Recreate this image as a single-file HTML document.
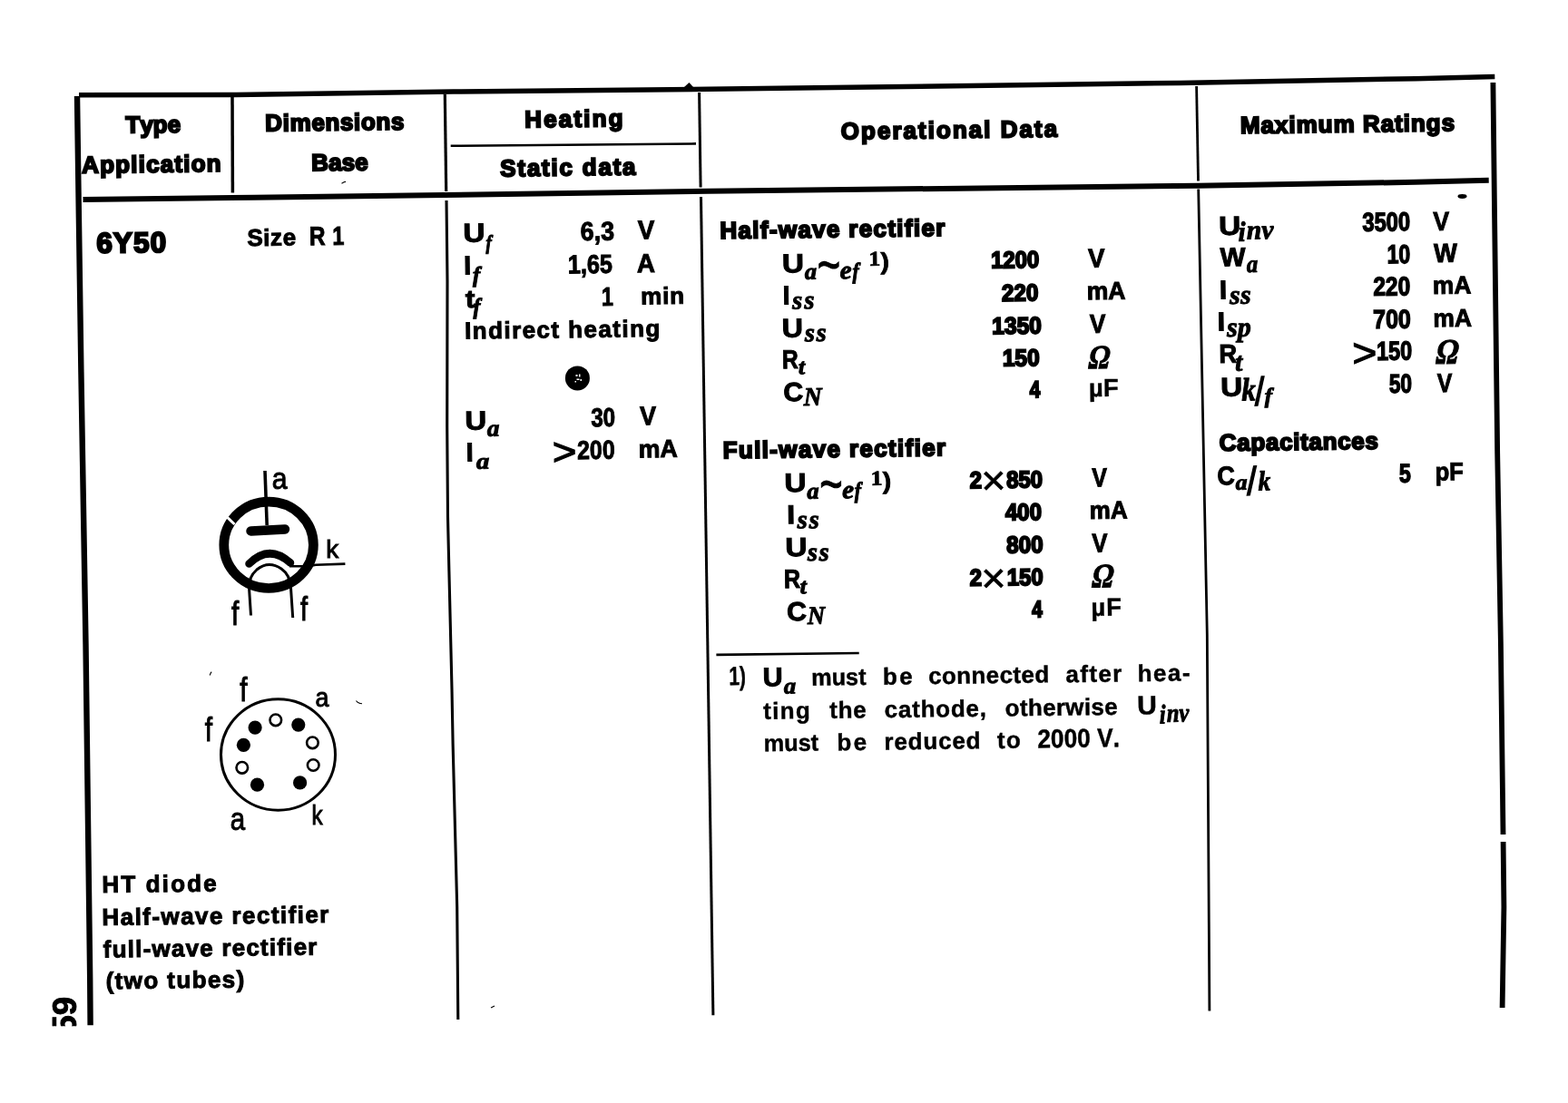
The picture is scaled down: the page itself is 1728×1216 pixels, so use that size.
<!DOCTYPE html>
<html lang="en"><head><meta charset="utf-8"><title>6Y50</title>
<style>
html,body{margin:0;padding:0;background:#fff}
body{width:1728px;height:1216px;overflow:hidden}
svg{display:block}
text{fill:#000;font-kerning:none;white-space:pre}
</style></head><body>
<svg width="1728" height="1216" viewBox="0 0 1728 1216">
<defs><clipPath id="pc"><rect x="40" y="1080" width="60" height="51.2"/></clipPath></defs>
<rect width="1728" height="1216" fill="#fff"/>
<path d="M87 104.7 L260 104.5 L500 101.1 L780 98.3 L1300 91.4 L1560 86.7 L1647.3 84.4" fill="none" stroke="#000" stroke-width="5.5" stroke-linecap="butt" stroke-linejoin="round"/>
<path d="M91.5 219.9 L280 217.8 L470 215.2 L780 210.8 L1320 204.7 L1560 200.8 L1640.7 198.7" fill="none" stroke="#000" stroke-width="6" stroke-linecap="butt" stroke-linejoin="round"/>
<path d="M85 106 L86.9 240 L89.4 410 L94.5 710 L99.2 1080 L99.6 1130.3" fill="none" stroke="#000" stroke-width="6.4" stroke-linecap="butt" stroke-linejoin="round"/>
<path d="M1645.4 91 L1647.1 240 L1650.2 500 L1653.9 710 L1656.5 920" fill="none" stroke="#000" stroke-width="5.8" stroke-linecap="butt" stroke-linejoin="round"/>
<path d="M1656.6 928 L1657.4 1000 L1655.6 1111" fill="none" stroke="#000" stroke-width="5.8" stroke-linecap="butt" stroke-linejoin="round"/>
<path d="M256 107 L256.4 212.6" fill="none" stroke="#000" stroke-width="3.5" stroke-linecap="butt" stroke-linejoin="round"/>
<path d="M490.3 104 L491.7 211" fill="none" stroke="#000" stroke-width="3.2" stroke-linecap="butt" stroke-linejoin="round"/>
<path d="M492 221 L493 310 L492.7 470 L493.5 570 L494.9 630 L498 760 L499.1 820 L503.7 1000 L504.8 1124" fill="none" stroke="#000" stroke-width="3.1" stroke-linecap="butt" stroke-linejoin="round"/>
<path d="M770.6 102 L772.1 206.5" fill="none" stroke="#000" stroke-width="3" stroke-linecap="butt" stroke-linejoin="round"/>
<path d="M772.5 217 L785.9 1119.3" fill="none" stroke="#000" stroke-width="3" stroke-linecap="butt" stroke-linejoin="round"/>
<path d="M1318.6 95 L1320.5 199.5" fill="none" stroke="#000" stroke-width="2.8" stroke-linecap="butt" stroke-linejoin="round"/>
<path d="M1320.7 208.5 L1330.3 700 L1332.9 1114.6" fill="none" stroke="#000" stroke-width="2.8" stroke-linecap="butt" stroke-linejoin="round"/>
<path d="M496.7 160.8 L767 158.4" fill="none" stroke="#000" stroke-width="2.6" stroke-linecap="butt" stroke-linejoin="round"/>
<path d="M789.4 721.9 L946.7 720" fill="none" stroke="#000" stroke-width="2.6" stroke-linecap="butt" stroke-linejoin="round"/>
<path d="M754 96 L759.5 91 L764 96Z" fill="#000"/>
<ellipse cx="1611.5" cy="216.5" rx="5" ry="2.4" fill="#000"/>
<path d="M376.5 202.2l3-1.6 1.5-.2M231.2 744.5l1.3-3.2.9-.3M392.5 772.5q2 3 6.5 3.2M541 1111l4-2" fill="none" stroke="#000" stroke-width="1.1"/>
<text x="-0.29" y="0" font-family="'Liberation Sans', sans-serif" font-size="26" font-weight="bold" stroke="#000" stroke-width="2" transform="translate(138.8 146.6) rotate(-0.72)">Type</text>
<text x="-0.65" y="0" font-family="'Liberation Sans', sans-serif" font-size="26" font-weight="bold" stroke="#000" stroke-width="2" letter-spacing="1.18" transform="translate(90.9 190.8) rotate(-0.72)">Application</text>
<text x="-1.74" y="0" font-family="'Liberation Sans', sans-serif" font-size="26" font-weight="bold" stroke="#000" stroke-width="2" letter-spacing="0.64" transform="translate(294.1 144.6) rotate(-0.72)">Dimensions</text>
<text x="-1.74" y="0" font-family="'Liberation Sans', sans-serif" font-size="26" font-weight="bold" stroke="#000" stroke-width="2" letter-spacing="0.09" transform="translate(345 188.3) rotate(-0.72)">Base</text>
<text x="-1.74" y="0" font-family="'Liberation Sans', sans-serif" font-size="26" font-weight="bold" stroke="#000" stroke-width="2" letter-spacing="2.17" transform="translate(580 140.5) rotate(-0.72)">Heating</text>
<text x="-0.75" y="0" font-family="'Liberation Sans', sans-serif" font-size="26" font-weight="bold" stroke="#000" stroke-width="2" letter-spacing="1.77" transform="translate(552.1 194.4) rotate(-0.72)">Static data</text>
<text x="-1.07" y="0" font-family="'Liberation Sans', sans-serif" font-size="26" font-weight="bold" stroke="#000" stroke-width="2" letter-spacing="2.03" transform="translate(927.8 153.6) rotate(-0.72)">Operational Data</text>
<text x="-1.74" y="0" font-family="'Liberation Sans', sans-serif" font-size="26" font-weight="bold" stroke="#000" stroke-width="2" letter-spacing="0.98" transform="translate(1368.7 147.1) rotate(-0.72)">Maximum Ratings</text>
<text x="-1.15" y="0" font-family="'Liberation Sans', sans-serif" font-size="31.5" font-weight="bold" stroke="#000" stroke-width="2.2" letter-spacing="1.03" transform="translate(107.7 278.7) rotate(-0.72)">6Y50</text>
<text x="-0.75" y="0" font-family="'Liberation Sans', sans-serif" font-size="26" font-weight="bold" stroke="#000" stroke-width="1" letter-spacing="0.54" transform="translate(273.2 271.1) rotate(-0.72)">Size</text>
<text x="-1.94" y="0" font-family="'Liberation Sans', sans-serif" font-size="29" font-weight="bold" stroke="#000" stroke-width="1" transform="translate(342.7 270.3) rotate(-0.72) scale(0.842 1)">R</text>
<text x="-1.83" y="0" font-family="'Liberation Sans', sans-serif" font-size="29" font-weight="bold" stroke="#000" stroke-width="1" transform="translate(368.05 270) rotate(-0.72) scale(0.8 1)">1</text>
<text x="-1.74" y="0" font-family="'Liberation Sans', sans-serif" font-size="26" font-weight="bold" stroke="#000" stroke-width="1" letter-spacing="2.12" transform="translate(114.3 984.1) rotate(-0.72)">HT diode</text>
<text x="-1.74" y="0" font-family="'Liberation Sans', sans-serif" font-size="26" font-weight="bold" stroke="#000" stroke-width="1" letter-spacing="1.44" transform="translate(114.3 1020.1) rotate(-0.72)">Half-wave rectifier</text>
<text x="-0.44" y="0" font-family="'Liberation Sans', sans-serif" font-size="26" font-weight="bold" stroke="#000" stroke-width="1" letter-spacing="1.21" transform="translate(114.3 1055.5) rotate(-0.72)">full-wave rectifier</text>
<text x="-1.29" y="0" font-family="'Liberation Sans', sans-serif" font-size="26" font-weight="bold" stroke="#000" stroke-width="1" letter-spacing="1.4" transform="translate(118 1090.3) rotate(-0.72)">(two tubes)</text>
<text x="-1.74" y="0" font-family="'Liberation Sans', sans-serif" font-size="29" font-weight="bold" stroke="#000" stroke-width="1" transform="translate(512.53 266.8) rotate(-0.72) scale(1.15 1)">U</text>
<text x="-0" y="0" font-family="'Liberation Serif', serif" font-size="22.57" font-weight="bold" font-style="italic" stroke="#000" stroke-width="1" transform="translate(535.5 274.99) rotate(-0.72) scale(0.852 1)">f</text>
<text x="-1.06" y="0" font-family="'Liberation Sans', sans-serif" font-size="29" font-weight="bold" stroke="#000" stroke-width="1" transform="translate(640.7 265.1) rotate(-0.72) scale(0.927 1)">6,3</text>
<text x="-0.2" y="0" font-family="'Liberation Sans', sans-serif" font-size="29" font-weight="bold" stroke="#000" stroke-width="1" transform="translate(703.2 263.5) rotate(-0.72) scale(0.955 1)">V</text>
<text x="-1.94" y="0" font-family="'Liberation Sans', sans-serif" font-size="29" font-weight="bold" stroke="#000" stroke-width="1" transform="translate(513.1 302.4) rotate(-0.72) scale(1.005 1)">I</text>
<text x="-0" y="0" font-family="'Liberation Serif', serif" font-size="24.43" font-weight="bold" font-style="italic" stroke="#000" stroke-width="1" transform="translate(520.9 311.1) rotate(-0.72) scale(1.014 1)">f</text>
<text x="-1.83" y="0" font-family="'Liberation Sans', sans-serif" font-size="29" font-weight="bold" stroke="#000" stroke-width="1" transform="translate(627.7 301.5) rotate(-0.72) scale(0.868 1)">1,65</text>
<text x="-0.72" y="0" font-family="'Liberation Sans', sans-serif" font-size="29" font-weight="bold" stroke="#000" stroke-width="1" transform="translate(702.7 300.3) rotate(-0.72) scale(0.956 1)">A</text>
<text x="-0.34" y="0" font-family="'Liberation Sans', sans-serif" font-size="27.5" font-weight="bold" stroke="#000" stroke-width="1" transform="translate(513.47 338.9) rotate(-0.72) scale(1.15 1)">t</text>
<text x="-0" y="0" font-family="'Liberation Serif', serif" font-size="25.08" font-weight="bold" font-style="italic" stroke="#000" stroke-width="1" transform="translate(521.5 346.16) rotate(-0.72) scale(0.958 1)">f</text>
<text x="-1.83" y="0" font-family="'Liberation Sans', sans-serif" font-size="29" font-weight="bold" stroke="#000" stroke-width="1" transform="translate(664.5 337.1) rotate(-0.72) scale(0.8 1)">1</text>
<text x="-1.71" y="0" font-family="'Liberation Sans', sans-serif" font-size="26" font-weight="bold" stroke="#000" stroke-width="1" letter-spacing="0.85" transform="translate(707.9 335.4) rotate(-0.72)">min</text>
<text x="-1.74" y="0" font-family="'Liberation Sans', sans-serif" font-size="26" font-weight="bold" stroke="#000" stroke-width="1" letter-spacing="1.44" transform="translate(513.9 373.6) rotate(-0.72)">Indirect heating</text>
<circle cx="636.4" cy="416.9" r="13.5" fill="#000"/>
<path d="M634.5 413h2v2h-2zM638 412.5h1.5v3H638zM635.5 417.5h3v1.5h-3zM639.5 418h1.5v2h-1.5zM633.5 420h1.5v1.5h-1.5z" fill="#fff"/>
<text x="-1.74" y="0" font-family="'Liberation Sans', sans-serif" font-size="29" font-weight="bold" stroke="#000" stroke-width="1" transform="translate(514.5 473.7) rotate(-0.72) scale(1.136 1)">U</text>
<text x="-0.3" y="0" font-family="'Liberation Serif', serif" font-size="25.78" font-weight="bold" font-style="italic" stroke="#000" stroke-width="1" transform="translate(537.4 480.74) rotate(-0.72) scale(1.044 1)">a</text>
<text x="-0.67" y="0" font-family="'Liberation Sans', sans-serif" font-size="29" font-weight="bold" stroke="#000" stroke-width="1" transform="translate(652 470.2) rotate(-0.72) scale(0.832 1)">30</text>
<text x="-0.2" y="0" font-family="'Liberation Sans', sans-serif" font-size="29" font-weight="bold" stroke="#000" stroke-width="1" transform="translate(705.4 468.5) rotate(-0.72) scale(0.929 1)">V</text>
<text x="-1.94" y="0" font-family="'Liberation Sans', sans-serif" font-size="29" font-weight="bold" stroke="#000" stroke-width="1" transform="translate(515.7 508.4) rotate(-0.72) scale(1.005 1)">I</text>
<text x="-0.29" y="0" font-family="'Liberation Serif', serif" font-size="24.95" font-weight="bold" font-style="italic" stroke="#000" stroke-width="1" transform="translate(525.44 516.84) rotate(-0.72) scale(1.15 1)">a</text>
<text x="-2.08" y="0" font-family="'Liberation Sans', sans-serif" font-size="42.14" stroke="#000" stroke-width="1.2" transform="translate(611.3 512.37) rotate(-0.72) scale(1.079 1)">&gt;</text>
<text x="-1.01" y="0" font-family="'Liberation Sans', sans-serif" font-size="29" font-weight="bold" stroke="#000" stroke-width="1" transform="translate(637.2 506.2) rotate(-0.72) scale(0.855 1)">200</text>
<text x="-1.81" y="0" font-family="'Liberation Sans', sans-serif" font-size="27.5" font-weight="bold" stroke="#000" stroke-width="1" transform="translate(705.4 504.4) rotate(-0.72) scale(0.974 1)">mA</text>
<text x="-1.74" y="0" font-family="'Liberation Sans', sans-serif" font-size="29" font-weight="bold" stroke="#000" stroke-width="1" transform="translate(864.08 300.4) rotate(-0.72) scale(1.15 1)">U</text>
<text x="-0.3" y="0" font-family="'Liberation Serif', serif" font-size="25.37" font-weight="bold" font-style="italic" stroke="#000" stroke-width="1" transform="translate(887.4 307.74) rotate(-0.72) scale(1.036 1)">a</text>
<text x="-2.79" y="0" font-family="'Liberation Sans', sans-serif" font-size="62.09" stroke="#000" stroke-width="1.2" transform="translate(903 312.86) rotate(-0.72) scale(0.701 1)">~</text>
<text x="-0.66" y="0" font-family="'Liberation Serif', serif" font-size="28.28" font-weight="bold" font-style="italic" stroke="#000" stroke-width="1" transform="translate(926.4 307.32) rotate(-0.72) scale(1.03 1)">e</text>
<text x="-0" y="0" font-family="'Liberation Serif', serif" font-size="25.08" font-weight="bold" font-style="italic" stroke="#000" stroke-width="1" transform="translate(939.4 307.16) rotate(-0.72) scale(0.872 1)">f</text>
<text x="-1.82" y="0" font-family="'Liberation Serif', serif" font-size="22.72" font-weight="bold" stroke="#000" stroke-width="0.8" transform="translate(959.5 292.7) rotate(-0.72) scale(1.124 1)">1</text>
<text x="-0.03" y="0" font-family="'Liberation Sans', sans-serif" font-size="26.07" font-weight="bold" stroke="#000" stroke-width="0.8" transform="translate(970.5 296.99) rotate(-0.72) scale(1.101 1)">)</text>
<text x="-1.74" y="0" font-family="'Liberation Sans', sans-serif" font-size="26" font-weight="bold" stroke="#000" stroke-width="2" letter-spacing="1.33" transform="translate(795.2 263) rotate(-0.72)">Half-wave rectifier</text>
<text x="-1.94" y="0" font-family="'Liberation Sans', sans-serif" font-size="29" font-weight="bold" stroke="#000" stroke-width="1" transform="translate(864.7 335.4) rotate(-0.72) scale(0.982 1)">I</text>
<text x="0.15" y="0" font-family="'Liberation Serif', serif" font-size="28.48" font-weight="bold" font-style="italic" stroke="#000" stroke-width="1" letter-spacing="2.15" transform="translate(873.2 340.42) rotate(-0.72)">ss</text>
<text x="-1.74" y="0" font-family="'Liberation Sans', sans-serif" font-size="29" font-weight="bold" stroke="#000" stroke-width="1" transform="translate(863.7 371.7) rotate(-0.72) scale(1.113 1)">U</text>
<text x="0.15" y="0" font-family="'Liberation Serif', serif" font-size="28.28" font-weight="bold" font-style="italic" stroke="#000" stroke-width="1" letter-spacing="1.91" transform="translate(886.8 376.22) rotate(-0.72)">ss</text>
<text x="-1.94" y="0" font-family="'Liberation Sans', sans-serif" font-size="29" font-weight="bold" stroke="#000" stroke-width="1" transform="translate(863.7 406.3) rotate(-0.72) scale(0.853 1)">R</text>
<text x="-0.73" y="0" font-family="'Liberation Serif', serif" font-size="24.09" font-weight="bold" font-style="italic" stroke="#000" stroke-width="1" transform="translate(880.7 412.36) rotate(-0.72) scale(1.066 1)">t</text>
<text x="-1.19" y="0" font-family="'Liberation Sans', sans-serif" font-size="29" font-weight="bold" stroke="#000" stroke-width="1" transform="translate(864.7 442.3) rotate(-0.72) scale(1.044 1)">C</text>
<text x="0.27" y="0" font-family="'Liberation Serif', serif" font-size="28.71" font-weight="bold" font-style="italic" stroke="#000" stroke-width="1" transform="translate(885.5 447) rotate(-0.72) scale(0.965 1)">N</text>
<text x="-1.64" y="0" font-family="'Liberation Sans', sans-serif" font-size="26" font-weight="bold" stroke="#000" stroke-width="2" transform="translate(1093.7 295.6) rotate(-0.72) scale(0.92 1)">1200</text>
<text x="-0.2" y="0" font-family="'Liberation Sans', sans-serif" font-size="29" font-weight="bold" stroke="#000" stroke-width="1" transform="translate(1199.4 294.8) rotate(-0.72) scale(0.95 1)">V</text>
<text x="-0.9" y="0" font-family="'Liberation Sans', sans-serif" font-size="26" font-weight="bold" stroke="#000" stroke-width="2" transform="translate(1104.9 331.9) rotate(-0.72) scale(0.932 1)">220</text>
<text x="-1.81" y="0" font-family="'Liberation Sans', sans-serif" font-size="27.5" font-weight="bold" stroke="#000" stroke-width="1" transform="translate(1199.4 330.3) rotate(-0.72) scale(0.97 1)">mA</text>
<text x="-1.64" y="0" font-family="'Liberation Sans', sans-serif" font-size="26" font-weight="bold" stroke="#000" stroke-width="2" transform="translate(1094.9 368.2) rotate(-0.72) scale(0.945 1)">1350</text>
<text x="-0.2" y="0" font-family="'Liberation Sans', sans-serif" font-size="29" font-weight="bold" stroke="#000" stroke-width="1" transform="translate(1201.1 367) rotate(-0.72) scale(0.908 1)">V</text>
<text x="-1.64" y="0" font-family="'Liberation Sans', sans-serif" font-size="26" font-weight="bold" stroke="#000" stroke-width="2" transform="translate(1106.6 403.6) rotate(-0.72) scale(0.937 1)">150</text>
<text x="-1.68" y="0" font-family="'Liberation Serif', serif" font-size="37" font-weight="bold" stroke="#000" stroke-width="1.1" transform="translate(1199.17 406.35) rotate(-0.72) scale(0.8 1) skewX(-14)">Ω</text>
<text x="-0.39" y="0" font-family="'Liberation Sans', sans-serif" font-size="26" font-weight="bold" stroke="#000" stroke-width="2" transform="translate(1134.96 438.2) rotate(-0.72) scale(0.8 1)">4</text>
<text x="-1.8" y="0" font-family="'Liberation Sans', sans-serif" font-size="27.5" font-weight="bold" stroke="#000" stroke-width="0.4" letter-spacing="0.36" transform="translate(1201.7 437.2) rotate(-0.72)">µF</text>
<text x="-1.74" y="0" font-family="'Liberation Sans', sans-serif" font-size="26" font-weight="bold" stroke="#000" stroke-width="2" letter-spacing="1.36" transform="translate(798.4 505.3) rotate(-0.72)">Full-wave rectifier</text>
<text x="-1.74" y="0" font-family="'Liberation Sans', sans-serif" font-size="29" font-weight="bold" stroke="#000" stroke-width="1" transform="translate(866.48 542.3) rotate(-0.72) scale(1.15 1)">U</text>
<text x="-0.3" y="0" font-family="'Liberation Serif', serif" font-size="25.37" font-weight="bold" font-style="italic" stroke="#000" stroke-width="1" transform="translate(889.8 549.64) rotate(-0.72) scale(1.036 1)">a</text>
<text x="-2.79" y="0" font-family="'Liberation Sans', sans-serif" font-size="62.09" stroke="#000" stroke-width="1.2" transform="translate(905.4 554.76) rotate(-0.72) scale(0.701 1)">~</text>
<text x="-0.66" y="0" font-family="'Liberation Serif', serif" font-size="28.28" font-weight="bold" font-style="italic" stroke="#000" stroke-width="1" transform="translate(928.8 549.22) rotate(-0.72) scale(1.03 1)">e</text>
<text x="-0" y="0" font-family="'Liberation Serif', serif" font-size="25.08" font-weight="bold" font-style="italic" stroke="#000" stroke-width="1" transform="translate(941.8 549.06) rotate(-0.72) scale(0.872 1)">f</text>
<text x="-1.82" y="0" font-family="'Liberation Serif', serif" font-size="22.72" font-weight="bold" stroke="#000" stroke-width="0.8" transform="translate(961.9 534.6) rotate(-0.72) scale(1.124 1)">1</text>
<text x="-0.03" y="0" font-family="'Liberation Sans', sans-serif" font-size="26.07" font-weight="bold" stroke="#000" stroke-width="0.8" transform="translate(972.9 538.89) rotate(-0.72) scale(1.101 1)">)</text>
<text x="-1.94" y="0" font-family="'Liberation Sans', sans-serif" font-size="29" font-weight="bold" stroke="#000" stroke-width="1" transform="translate(869.4 577.3) rotate(-0.72) scale(1.125 1)">I</text>
<text x="0.15" y="0" font-family="'Liberation Serif', serif" font-size="28.48" font-weight="bold" font-style="italic" stroke="#000" stroke-width="1" letter-spacing="2.15" transform="translate(878.5 582.32) rotate(-0.72)">ss</text>
<text x="-1.74" y="0" font-family="'Liberation Sans', sans-serif" font-size="29" font-weight="bold" stroke="#000" stroke-width="1" transform="translate(867.38 613.2) rotate(-0.72) scale(1.15 1)">U</text>
<text x="0.15" y="0" font-family="'Liberation Serif', serif" font-size="28.28" font-weight="bold" font-style="italic" stroke="#000" stroke-width="1" letter-spacing="1.71" transform="translate(889.8 618.12) rotate(-0.72)">ss</text>
<text x="-1.94" y="0" font-family="'Liberation Sans', sans-serif" font-size="29" font-weight="bold" stroke="#000" stroke-width="1" transform="translate(865.6 648.2) rotate(-0.72) scale(0.869 1)">R</text>
<text x="-0.73" y="0" font-family="'Liberation Serif', serif" font-size="24.09" font-weight="bold" font-style="italic" stroke="#000" stroke-width="1" transform="translate(882.6 654.26) rotate(-0.72) scale(1.066 1)">t</text>
<text x="-1.19" y="0" font-family="'Liberation Sans', sans-serif" font-size="29" font-weight="bold" stroke="#000" stroke-width="1" transform="translate(868.5 684.2) rotate(-0.72) scale(1.044 1)">C</text>
<text x="0.26" y="0" font-family="'Liberation Serif', serif" font-size="28.25" font-weight="bold" font-style="italic" stroke="#000" stroke-width="1" transform="translate(889.8 688) rotate(-0.72) scale(0.939 1)">N</text>
<text x="-0.9" y="0" font-family="'Liberation Sans', sans-serif" font-size="26" font-weight="bold" stroke="#000" stroke-width="2" transform="translate(1069.5 538.2) rotate(-0.72) scale(0.919 1)">2</text>
<text x="-3.15" y="0" font-family="'Liberation Sans', sans-serif" font-size="45.49" stroke="#000" stroke-width="0.7" transform="translate(1084.85 545.15) rotate(-0.72) scale(1.026 1)">×</text>
<text x="-0.83" y="0" font-family="'Liberation Sans', sans-serif" font-size="26" font-weight="bold" stroke="#000" stroke-width="2" transform="translate(1110 537.7) rotate(-0.72) scale(0.921 1)">850</text>
<text x="-0.2" y="0" font-family="'Liberation Sans', sans-serif" font-size="29" font-weight="bold" stroke="#000" stroke-width="1" transform="translate(1203.7 536.5) rotate(-0.72) scale(0.86 1)">V</text>
<text x="-0.39" y="0" font-family="'Liberation Sans', sans-serif" font-size="26" font-weight="bold" stroke="#000" stroke-width="2" transform="translate(1108.4 573.6) rotate(-0.72) scale(0.921 1)">400</text>
<text x="-1.81" y="0" font-family="'Liberation Sans', sans-serif" font-size="27.5" font-weight="bold" stroke="#000" stroke-width="1" transform="translate(1202.5 572.1) rotate(-0.72) scale(0.946 1)">mA</text>
<text x="-0.83" y="0" font-family="'Liberation Sans', sans-serif" font-size="26" font-weight="bold" stroke="#000" stroke-width="2" transform="translate(1110.1 609.6) rotate(-0.72) scale(0.93 1)">800</text>
<text x="-0.2" y="0" font-family="'Liberation Sans', sans-serif" font-size="29" font-weight="bold" stroke="#000" stroke-width="1" transform="translate(1203.7 608.7) rotate(-0.72) scale(0.887 1)">V</text>
<text x="-0.9" y="0" font-family="'Liberation Sans', sans-serif" font-size="26" font-weight="bold" stroke="#000" stroke-width="2" transform="translate(1069.5 645.8) rotate(-0.72) scale(0.919 1)">2</text>
<text x="-3.15" y="0" font-family="'Liberation Sans', sans-serif" font-size="45.49" stroke="#000" stroke-width="0.7" transform="translate(1084.85 652.95) rotate(-0.72) scale(1.026 1)">×</text>
<text x="-1.64" y="0" font-family="'Liberation Sans', sans-serif" font-size="26" font-weight="bold" stroke="#000" stroke-width="2" transform="translate(1111.5 645.3) rotate(-0.72) scale(0.915 1)">150</text>
<text x="-1.7" y="0" font-family="'Liberation Serif', serif" font-size="37.46" font-weight="bold" stroke="#000" stroke-width="1.1" transform="translate(1202.86 647.45) rotate(-0.72) scale(0.8 1) skewX(-14)">Ω</text>
<text x="-0.39" y="0" font-family="'Liberation Sans', sans-serif" font-size="26" font-weight="bold" stroke="#000" stroke-width="2" transform="translate(1137.56 680.4) rotate(-0.72) scale(0.8 1)">4</text>
<text x="-1.8" y="0" font-family="'Liberation Sans', sans-serif" font-size="27.5" font-weight="bold" stroke="#000" stroke-width="0.4" letter-spacing="0.86" transform="translate(1204.3 679) rotate(-0.72)">µF</text>
<text x="-1.83" y="0" font-family="'Liberation Sans', sans-serif" font-size="29" font-weight="bold" stroke="#000" stroke-width="0.45" transform="translate(804.73 755.27) rotate(-0.72) scale(0.726 1)">1)</text>
<text x="-1.74" y="0" font-family="'Liberation Sans', sans-serif" font-size="29" font-weight="bold" stroke="#000" stroke-width="1" transform="translate(842.5 756.5) rotate(-0.72) scale(1.05 1)">U</text>
<text x="-0.29" y="0" font-family="'Liberation Serif', serif" font-size="24.95" font-weight="bold" font-style="italic" stroke="#000" stroke-width="1" transform="translate(864.4 764.54) rotate(-0.72) scale(1.062 1)">a</text>
<text x="-1.71" y="0" font-family="'Liberation Sans', sans-serif" font-size="26" font-weight="bold" stroke="#000" stroke-width="0.45" transform="translate(895.83 755.67) rotate(-0.72) scale(0.973 1)">must</text>
<text x="-1.71" y="0" font-family="'Liberation Sans', sans-serif" font-size="26" font-weight="bold" stroke="#000" stroke-width="0.45" letter-spacing="2.41" transform="translate(974.62 754.68) rotate(-0.72)">be</text>
<text x="-1.02" y="0" font-family="'Liberation Sans', sans-serif" font-size="26" font-weight="bold" stroke="#000" stroke-width="0.45" letter-spacing="0.39" transform="translate(1024.22 754.06) rotate(-0.72)">connected</text>
<text x="-0.76" y="0" font-family="'Liberation Sans', sans-serif" font-size="26" font-weight="bold" stroke="#000" stroke-width="0.45" letter-spacing="1.36" transform="translate(1175.32 752.15) rotate(-0.72)">after</text>
<text x="-1.82" y="0" font-family="'Liberation Sans', sans-serif" font-size="26" font-weight="bold" stroke="#000" stroke-width="0.45" letter-spacing="1.48" transform="translate(1255.52 751.14) rotate(-0.72)">hea-</text>
<text x="-0.32" y="0" font-family="'Liberation Sans', sans-serif" font-size="26" font-weight="bold" stroke="#000" stroke-width="0.45" letter-spacing="1.32" transform="translate(841.52 792.77) rotate(-0.72)">ting</text>
<text x="-0.32" y="0" font-family="'Liberation Sans', sans-serif" font-size="26" font-weight="bold" stroke="#000" stroke-width="0.45" letter-spacing="0.68" transform="translate(914.62 791.85) rotate(-0.72)">the</text>
<text x="-1.02" y="0" font-family="'Liberation Sans', sans-serif" font-size="26" font-weight="bold" stroke="#000" stroke-width="0.45" letter-spacing="0.76" transform="translate(975.83 791.08) rotate(-0.72)">cathode,</text>
<text x="-1.02" y="0" font-family="'Liberation Sans', sans-serif" font-size="26" font-weight="bold" stroke="#000" stroke-width="0.45" letter-spacing="0.31" transform="translate(1108.82 789.41) rotate(-0.72)">otherwise</text>
<text x="-1.74" y="0" font-family="'Liberation Sans', sans-serif" font-size="29" font-weight="bold" stroke="#000" stroke-width="0.45" transform="translate(1255.12 787.56) rotate(-0.72) scale(1.041 1)">U</text>
<text x="-0.76" y="0" font-family="'Liberation Serif', serif" font-size="29.83" font-weight="bold" font-style="italic" stroke="#000" stroke-width="1" transform="translate(1278.64 797.6) rotate(-0.72) scale(0.8 1)">i</text>
<text x="-0.6" y="0" font-family="'Liberation Serif', serif" font-size="29.11" font-weight="bold" font-style="italic" stroke="#000" stroke-width="1" transform="translate(1286.5 795.72) rotate(-0.72) scale(0.841 1)">nv</text>
<text x="-1.71" y="0" font-family="'Liberation Sans', sans-serif" font-size="26" font-weight="bold" stroke="#000" stroke-width="0.45" transform="translate(843.33 828.17) rotate(-0.72) scale(0.976 1)">must</text>
<text x="-1.71" y="0" font-family="'Liberation Sans', sans-serif" font-size="26" font-weight="bold" stroke="#000" stroke-width="0.45" letter-spacing="2.31" transform="translate(924.23 827.16) rotate(-0.72)">be</text>
<text x="-1.71" y="0" font-family="'Liberation Sans', sans-serif" font-size="26" font-weight="bold" stroke="#000" stroke-width="0.45" letter-spacing="0.82" transform="translate(976.23 826.5) rotate(-0.72)">reduced</text>
<text x="-0.32" y="0" font-family="'Liberation Sans', sans-serif" font-size="26" font-weight="bold" stroke="#000" stroke-width="0.45" letter-spacing="1.54" transform="translate(1099.22 824.95) rotate(-0.72)">to</text>
<text x="-1.01" y="0" font-family="'Liberation Sans', sans-serif" font-size="29" font-weight="bold" stroke="#000" stroke-width="0.45" transform="translate(1144.42 824.38) rotate(-0.72) scale(0.905 1)">2000 V.</text>
<text x="-1.74" y="0" font-family="'Liberation Sans', sans-serif" font-size="29" font-weight="bold" stroke="#000" stroke-width="1" transform="translate(1345.13 258.9) rotate(-0.72) scale(1.15 1)">U</text>
<text x="-0.78" y="0" font-family="'Liberation Serif', serif" font-size="30.84" font-weight="bold" font-style="italic" stroke="#000" stroke-width="1" transform="translate(1365.5 265.8) rotate(-0.72) scale(0.928 1)">i</text>
<text x="-0.61" y="0" font-family="'Liberation Serif', serif" font-size="29.94" font-weight="bold" font-style="italic" stroke="#000" stroke-width="1" transform="translate(1374.7 263.41) rotate(-0.72) scale(0.98 1)">nv</text>
<text x="-0.67" y="0" font-family="'Liberation Sans', sans-serif" font-size="29" font-weight="bold" stroke="#000" stroke-width="1.4" transform="translate(1502 254.8) rotate(-0.72) scale(0.819 1)">3500</text>
<text x="-0.2" y="0" font-family="'Liberation Sans', sans-serif" font-size="29" font-weight="bold" stroke="#000" stroke-width="1" transform="translate(1579.6 254) rotate(-0.72) scale(0.918 1)">V</text>
<text x="-0.03" y="0" font-family="'Liberation Sans', sans-serif" font-size="29" font-weight="bold" stroke="#000" stroke-width="1" transform="translate(1344.7 293.5) rotate(-0.72) scale(1.018 1)">W</text>
<text x="-0.32" y="0" font-family="'Liberation Serif', serif" font-size="27.03" font-weight="bold" font-style="italic" stroke="#000" stroke-width="1" transform="translate(1374.3 300.12) rotate(-0.72) scale(0.908 1)">a</text>
<text x="-1.83" y="0" font-family="'Liberation Sans', sans-serif" font-size="29" font-weight="bold" stroke="#000" stroke-width="1.4" transform="translate(1530.1 290.3) rotate(-0.72) scale(0.793 1)">10</text>
<text x="-0.03" y="0" font-family="'Liberation Sans', sans-serif" font-size="29" font-weight="bold" stroke="#000" stroke-width="1" transform="translate(1580.2 289.1) rotate(-0.72) scale(0.941 1)">W</text>
<text x="-1.94" y="0" font-family="'Liberation Sans', sans-serif" font-size="29" font-weight="bold" stroke="#000" stroke-width="1" transform="translate(1345.9 329.4) rotate(-0.72) scale(1.029 1)">I</text>
<text x="0.16" y="0" font-family="'Liberation Serif', serif" font-size="29.52" font-weight="bold" font-style="italic" stroke="#000" stroke-width="1" letter-spacing="0.47" transform="translate(1355.2 335.01) rotate(-0.72)">ss</text>
<text x="-1.01" y="0" font-family="'Liberation Sans', sans-serif" font-size="29" font-weight="bold" stroke="#000" stroke-width="1.4" transform="translate(1514.3 325.8) rotate(-0.72) scale(0.844 1)">220</text>
<text x="-1.81" y="0" font-family="'Liberation Sans', sans-serif" font-size="27.5" font-weight="bold" stroke="#000" stroke-width="1" transform="translate(1580.8 324.1) rotate(-0.72) scale(0.955 1)">mA</text>
<text x="-1.94" y="0" font-family="'Liberation Sans', sans-serif" font-size="29" font-weight="bold" stroke="#000" stroke-width="1" transform="translate(1343.9 364.5) rotate(-0.72) scale(1.053 1)">I</text>
<text x="0.16" y="0" font-family="'Liberation Serif', serif" font-size="30.41" font-weight="bold" font-style="italic" stroke="#000" stroke-width="1" transform="translate(1352.2 370.93) rotate(-0.72) scale(0.978 1)">sp</text>
<text x="-1.25" y="0" font-family="'Liberation Sans', sans-serif" font-size="29" font-weight="bold" stroke="#000" stroke-width="1.4" transform="translate(1514.3 362) rotate(-0.72) scale(0.862 1)">700</text>
<text x="-1.81" y="0" font-family="'Liberation Sans', sans-serif" font-size="27.5" font-weight="bold" stroke="#000" stroke-width="1" transform="translate(1581.2 360.2) rotate(-0.72) scale(0.96 1)">mA</text>
<text x="-1.94" y="0" font-family="'Liberation Sans', sans-serif" font-size="29" font-weight="bold" stroke="#000" stroke-width="1" transform="translate(1345.3 400.1) rotate(-0.72) scale(0.945 1)">R</text>
<text x="-0.88" y="0" font-family="'Liberation Serif', serif" font-size="29.16" font-weight="bold" font-style="italic" stroke="#000" stroke-width="1" transform="translate(1362.1 408.62) rotate(-0.72) scale(0.994 1)">t</text>
<text x="-2.18" y="0" font-family="'Liberation Sans', sans-serif" font-size="44.11" stroke="#000" stroke-width="1.2" transform="translate(1492.9 404.22) rotate(-0.72) scale(1.05 1)">&gt;</text>
<text x="-1.83" y="0" font-family="'Liberation Sans', sans-serif" font-size="29" font-weight="bold" stroke="#000" stroke-width="1.4" transform="translate(1518.7 396.9) rotate(-0.72) scale(0.807 1)">150</text>
<text x="-1.78" y="0" font-family="'Liberation Serif', serif" font-size="39.12" font-weight="bold" stroke="#000" stroke-width="1.1" transform="translate(1581.95 400.95) rotate(-0.72) scale(0.8 1) skewX(-14)">Ω</text>
<text x="-1.74" y="0" font-family="'Liberation Sans', sans-serif" font-size="29" font-weight="bold" stroke="#000" stroke-width="1" transform="translate(1347.33 436.6) rotate(-0.72) scale(1.15 1)">U</text>
<text x="-0.49" y="0" font-family="'Liberation Serif', serif" font-size="35.6" font-weight="bold" font-style="italic" stroke="#000" stroke-width="1" transform="translate(1369 441.5) rotate(-0.72) scale(0.869 1)">k</text>
<text x="-0" y="0" font-family="'Liberation Sans', sans-serif" font-size="43.71" stroke="#000" stroke-width="1.4" transform="translate(1383 446.77) rotate(-0.72) scale(0.865 1)">/</text>
<text x="-0" y="0" font-family="'Liberation Serif', serif" font-size="23.66" font-weight="bold" font-style="italic" stroke="#000" stroke-width="1" transform="translate(1393.7 444.36) rotate(-0.72) scale(1.056 1)">f</text>
<text x="-0.89" y="0" font-family="'Liberation Sans', sans-serif" font-size="29" font-weight="bold" stroke="#000" stroke-width="1.4" transform="translate(1531.7 433) rotate(-0.72) scale(0.782 1)">50</text>
<text x="-0.2" y="0" font-family="'Liberation Sans', sans-serif" font-size="29" font-weight="bold" stroke="#000" stroke-width="1" transform="translate(1584.1 432.2) rotate(-0.72) scale(0.855 1)">V</text>
<text x="-1.07" y="0" font-family="'Liberation Sans', sans-serif" font-size="26" font-weight="bold" stroke="#000" stroke-width="2" letter-spacing="0.68" transform="translate(1344.9 497) rotate(-0.72)">Capacitances</text>
<text x="-1.19" y="0" font-family="'Liberation Sans', sans-serif" font-size="29" font-weight="bold" stroke="#000" stroke-width="1" transform="translate(1342.5 534.5) rotate(-0.72) scale(0.928 1)">C</text>
<text x="-0.28" y="0" font-family="'Liberation Serif', serif" font-size="23.91" font-weight="bold" font-style="italic" stroke="#000" stroke-width="1" transform="translate(1362 539.85) rotate(-0.72) scale(1.072 1)">a</text>
<text x="-0" y="0" font-family="'Liberation Sans', sans-serif" font-size="43.57" stroke="#000" stroke-width="1.4" transform="translate(1374.2 545.57) rotate(-0.72) scale(0.884 1)">/</text>
<text x="-0.42" y="0" font-family="'Liberation Serif', serif" font-size="30.55" font-weight="bold" font-style="italic" stroke="#000" stroke-width="1" transform="translate(1387 540.6) rotate(-0.72) scale(0.882 1)">k</text>
<text x="-0.89" y="0" font-family="'Liberation Sans', sans-serif" font-size="29" font-weight="bold" stroke="#000" stroke-width="1.4" transform="translate(1542.7 531.7) rotate(-0.72) scale(0.804 1)">5</text>
<text x="-1.81" y="0" font-family="'Liberation Sans', sans-serif" font-size="27.5" font-weight="bold" stroke="#000" stroke-width="1" transform="translate(1583.3 529.5) rotate(-0.72) scale(0.929 1)">pF</text>
<g clip-path="url(#pc)"><text x="0" y="0" font-family="'Liberation Sans', sans-serif" font-weight="bold" font-size="36.5" stroke="#000" stroke-width="0.9" transform="translate(84.4 1139.6) rotate(-90)">59</text></g>
<ellipse cx="296.1" cy="600.8" rx="49.3" ry="47.7" fill="none" stroke="#000" stroke-width="10.7"/>
<path d="M248.5 568.5 L258.5 578" stroke="#fff" stroke-width="3" fill="none"/>
<path d="M292 519 L294.2 579" fill="none" stroke="#000" stroke-width="3.6" stroke-linecap="butt" stroke-linejoin="round"/>
<path d="M276.5 585.4 L314 583.4" fill="none" stroke="#000" stroke-width="10.5" stroke-linecap="round" stroke-linejoin="round"/>
<path d="M274.5 621.5 Q296.5 599.5 320 620.5" fill="none" stroke="#000" stroke-width="8.5" stroke-linecap="round"/>
<path d="M319 624.3 L340 624.2 L348 622.8 L380.4 621.6" fill="none" stroke="#000" stroke-width="2.6" stroke-linecap="butt" stroke-linejoin="round"/>
<path d="M276.5 678.5 L274.5 648 Q274 636 283 628 Q296 617.5 310 627 Q320 634 320.5 648 L322.7 681" fill="none" stroke="#000" stroke-width="3"/>
<text x="-1.39" y="0" font-family="'Liberation Sans', sans-serif" font-size="32.67" stroke="#000" stroke-width="1" transform="translate(301.1 538.68) rotate(0) scale(0.924 1)">a</text>
<text x="-1.82" y="0" font-family="'Liberation Sans', sans-serif" font-size="27.05" stroke="#000" stroke-width="1" transform="translate(361.2 614.7) rotate(0) scale(1.031 1)">k</text>
<text x="-0.53" y="0" font-family="'Liberation Sans', sans-serif" font-size="37.31" stroke="#000" stroke-width="1" transform="translate(255.29 688.7) rotate(0) scale(0.8 1)">f</text>
<text x="-0.51" y="0" font-family="'Liberation Sans', sans-serif" font-size="36.21" stroke="#000" stroke-width="1" transform="translate(331.51 683.8) rotate(0) scale(0.8 1)">f</text>
<ellipse cx="306.5" cy="832" rx="63" ry="61.2" fill="none" stroke="#000" stroke-width="3"/>
<circle cx="281.1" cy="802.1" r="7.6" fill="#000"/>
<circle cx="268.4" cy="821.3" r="7.6" fill="#000"/>
<circle cx="283.5" cy="865.2" r="7.6" fill="#000"/>
<circle cx="330.6" cy="862.9" r="7.6" fill="#000"/>
<circle cx="328.8" cy="799.1" r="7.6" fill="#000"/>
<circle cx="303.8" cy="793.8" r="6.3" fill="none" stroke="#000" stroke-width="2.6"/>
<circle cx="344.4" cy="818.8" r="6.3" fill="none" stroke="#000" stroke-width="2.6"/>
<circle cx="345.2" cy="843.5" r="6.3" fill="none" stroke="#000" stroke-width="2.6"/>
<circle cx="266.8" cy="846.3" r="6.3" fill="none" stroke="#000" stroke-width="2.6"/>
<text x="-0.53" y="0" font-family="'Liberation Sans', sans-serif" font-size="37.31" stroke="#000" stroke-width="1" transform="translate(264.69 772.6) rotate(0) scale(0.8 1)">f</text>
<text x="-0.53" y="0" font-family="'Liberation Sans', sans-serif" font-size="37.31" stroke="#000" stroke-width="1" transform="translate(226.04 817) rotate(0) scale(0.8 1)">f</text>
<text x="-1.26" y="0" font-family="'Liberation Sans', sans-serif" font-size="29.75" stroke="#000" stroke-width="1" transform="translate(348.7 779.41) rotate(0) scale(0.903 1)">a</text>
<text x="-1.46" y="0" font-family="'Liberation Sans', sans-serif" font-size="34.32" stroke="#000" stroke-width="1" transform="translate(254.9 915.06) rotate(0) scale(0.857 1)">a</text>
<text x="-1.97" y="0" font-family="'Liberation Sans', sans-serif" font-size="29.26" stroke="#000" stroke-width="1" transform="translate(345.1 908.8) rotate(0) scale(0.827 1)">k</text>
</svg>
</body></html>
